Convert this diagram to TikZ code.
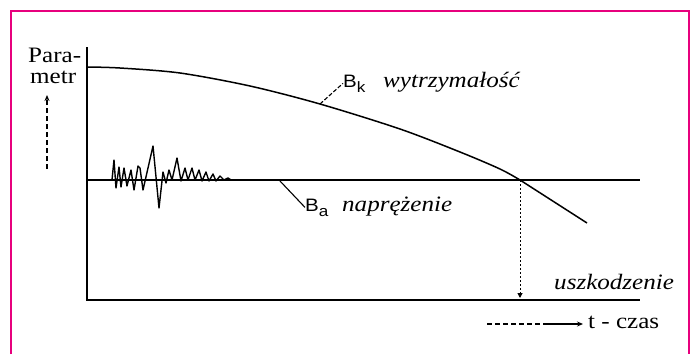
\documentclass[tikz,border=0pt]{standalone}
\usepackage{fontspec}
\setmainfont{Liberation Serif}
\setsansfont{Liberation Sans}
\usetikzlibrary{positioning,arrows.meta}
\definecolor{framepink}{RGB}{231,0,125}
\tikzset{
  lbl/.style={inner sep=0pt,anchor=base west,font=\fontsize{22}{24}\selectfont},
  itlbl/.style={lbl,font=\itshape\fontsize{22}{24}\selectfont},
  sym/.style={inner sep=0pt,anchor=base west,font=\sffamily\fontsize{18}{20}\selectfont},
  axisline/.style={line width=1.2pt},
  leader/.style={line width=1.1pt}
}
\newcommand{\subsym}[1]{\raisebox{-5pt}{\fontsize{15}{15}\selectfont #1}}
\newcommand{\wide}[1]{\scalebox{1.14}[1]{#1}}

\begin{document}
\begin{tikzpicture}[x=1pt,y=-1pt]
        \useasboundingbox (0,0) rectangle (695,354);
        % frame
        \draw[framepink,line width=2.6pt] (11,354) -- (11,11) -- (689,11) -- (689,354);
        % axes and stress level
        \coordinate (o) at (87,300);
        \coordinate (ytop) at (87,47);
        \coordinate (xend) at (640,300);
        \coordinate (sa) at (87,180);
        \coordinate (se) at (640,180);
        \draw[axisline] (ytop) -- (o) -- (xend);
        \draw[axisline] (sa) -- (se);
        % strength curve
        \coordinate (fail) at (520,180);
        \draw[line width=1.5pt] plot[smooth] coordinates
          {(87,67) (120,68) (180,73) (250,86) (320,104) (400,129) (460,152) (500,169) (520,180)}
          -- (587,223);
        % stress signal
        \draw[line width=1.4pt,line join=round] plot coordinates
          {(112,180) (114,160) (116,188) (119,167) (121,187) (124,168) (127,186) (131,170)
           (134,190) (138,166) (140,168) (143,190) (153,146) (159,208) (163,172) (166,183)
           (169,170) (172,180) (177,158) (181,181) (185,168) (188,180) (192,168) (195,180)
           (199,170) (202,181) (206,172) (209,181) (213,174) (216,181) (220,176) (224,180)
           (228,178) (231,180)};
        % labels
        \node[lbl] (param) at (28,62) {\wide{Para-}};
        \node[lbl] (parammetr) at (30,83) {\wide{metr}};
        \coordinate (parTail) at (47,169);
        \coordinate (parTip) at (47,95);
        \draw[line width=1.3pt,dash pattern=on 5pt off 3pt,-{Stealth[length=6pt,width=5pt]}] (parTail) -- (parTip);
        \node[sym] (bk) at (343,87) {\wide{B\subsym{k}}};
        \node[itlbl] (wytrz) at (383,87) {\wide{wytrzymałość}};
        \coordinate (bkpt) at (320,104);
        \draw[leader,dash pattern=on 4pt off 2pt] (bkpt) -- (bk.west);
        \node[sym] (ba) at (305,211) {\wide{B\subsym{a}}};
        \node[itlbl] (napr) at (342,211) {\wide{naprężenie}};
        \coordinate (bapt) at (280,181);
        \draw[leader] (bapt) -- (ba.west);
        % failure
        \node[itlbl] (uszk) at (554,289) {\wide{uszkodzenie}};
        \draw[line width=1pt,dash pattern=on 1.5pt off 2.5pt,-{Triangle[length=5pt,width=5pt]}] (fail) -- (fail |- 0,298);
        % time
        \node[lbl] (czas) at (588,328) {\wide{t - czas}};
        \coordinate (tTail) at (487,324);
        \coordinate (tMid) at (545,324);
        \draw[line width=1.2pt,dash pattern=on 5pt off 3pt] (tTail) -- (tMid);
        \draw[line width=1.2pt,-{Stealth[length=6pt,width=5pt]}] (tMid) -- ([xshift=-5pt]czas.west |- tTail);
\end{tikzpicture}
\end{document}
